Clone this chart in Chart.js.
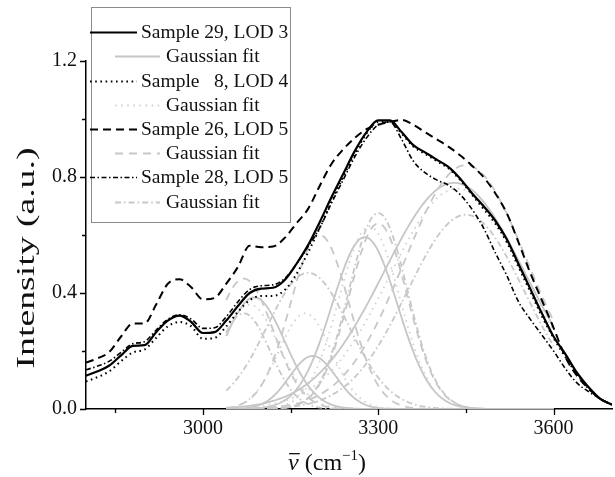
<!DOCTYPE html>
<html>
<head>
<meta charset="utf-8">
<script src="https://cdn.jsdelivr.net/npm/chart.js@4"></script>
<style>
  html, body { margin: 0; padding: 0; background: #fff; }
</style>
</head>
<body>
<canvas id="ftirChart" width="615" height="477"></canvas>
<script>
// =======================================
// DATA
// =======================================
// wavenumber grid of the measured spectra, cm-1
const wavenumbers = [
  2800, 2820, 2840, 2860, 2880, 2900, 2920, 2940, 2960, 2980,
  3000, 3020, 3040, 3060, 3080, 3100, 3120, 3140, 3160, 3180,
  3200, 3220, 3240, 3260, 3280, 3300, 3320, 3340, 3360, 3380,
  3400, 3420, 3440, 3460, 3480, 3500, 3520, 3540, 3560, 3580,
  3600, 3620, 3640, 3660, 3680, 3700
]

const sample29 = [
  0.115, 0.130, 0.150, 0.185, 0.218, 0.220, 0.265, 0.305, 0.322, 0.300,
  0.262, 0.265, 0.305, 0.355, 0.400, 0.415, 0.418, 0.445, 0.500, 0.565,
  0.645, 0.730, 0.810, 0.890, 0.955, 0.995, 0.995, 0.955, 0.910, 0.885,
  0.860, 0.835, 0.795, 0.745, 0.700, 0.650, 0.585, 0.500, 0.415, 0.330,
  0.250, 0.190, 0.125, 0.075, 0.035, 0.015
]

const sample8 = [
  0.095, 0.110, 0.130, 0.165, 0.195, 0.205, 0.245, 0.285, 0.300, 0.285,
  0.242, 0.245, 0.285, 0.335, 0.375, 0.390, 0.390, 0.410, 0.465, 0.540,
  0.625, 0.715, 0.800, 0.880, 0.950, 0.990, 0.990, 0.950, 0.905, 0.880,
  0.855, 0.830, 0.790, 0.740, 0.690, 0.640, 0.575, 0.490, 0.405, 0.320,
  0.245, 0.180, 0.120, 0.070, 0.035, 0.015
]

const sample26 = [
  0.160, 0.175, 0.197, 0.250, 0.295, 0.295, 0.360, 0.432, 0.447, 0.420,
  0.378, 0.383, 0.432, 0.490, 0.563, 0.558, 0.560, 0.590, 0.640, 0.690,
  0.770, 0.845, 0.895, 0.935, 0.965, 0.980, 0.990, 0.997, 0.980, 0.955,
  0.930, 0.905, 0.875, 0.840, 0.800, 0.745, 0.675, 0.575, 0.470, 0.375,
  0.280, 0.180, 0.115, 0.070, 0.035, 0.015
]

const sample28 = [
  0.135, 0.148, 0.165, 0.195, 0.225, 0.232, 0.272, 0.310, 0.325, 0.310,
  0.278, 0.280, 0.318, 0.370, 0.412, 0.425, 0.428, 0.450, 0.500, 0.560,
  0.625, 0.710, 0.790, 0.870, 0.935, 0.980, 0.990, 0.930, 0.855, 0.815,
  0.790, 0.772, 0.740, 0.690, 0.625, 0.540, 0.460, 0.370, 0.310, 0.255,
  0.200, 0.140, 0.090, 0.060, 0.035, 0.015
]

// Gaussian fit components: centre (cm-1), height, sigma (cm-1)
const fit29Centres = [3088, 3188, 3277, 3430]
const fit29Heights = [0.385, 0.183, 0.593, 0.780]
const fit29Sigmas = [52, 40, 56, 120]

const fit8Centres = [3080, 3175, 3285, 3435]
const fit8Heights = [0.360, 0.330, 0.630, 0.760]
const fit8Sigmas = [50, 45, 52, 115]

const fit26Centres = [3070, 3200, 3300, 3450]
const fit26Heights = [0.450, 0.600, 0.640, 0.841]
const fit26Sigmas = [50, 50, 50, 105]

const fit28Centres = [3070, 3180, 3300, 3450]
const fit28Heights = [0.330, 0.470, 0.676, 0.670]
const fit28Sigmas = [45, 70, 50, 100]

// fitted range, cm-1
const fitStart = 3040
const fitEnd = 3600

const sampleLabels = ['Sample 29, LOD 3', 'Sample   8, LOD 4', 'Sample 26, LOD 5', 'Sample 28, LOD 5']
const fitLabel = 'Gaussian fit'
const yTitle = 'Intensity (a.u.)'

const xMajorTicks = [3000, 3300, 3600]
const xMinorTicks = [2850, 3150, 3450]
const yMajorTicks = [0, 0.4, 0.8, 1.2]
const yMinorTicks = [0.2, 0.6, 1.0]

// =======================================
// STYLES
// =======================================
const FONT = "'Liberation Serif', 'Times New Roman', serif"
const TEXT = '#111'

const sampleStyles = [
  { color: '#000', width: 2.2, dash: [] },
  { color: '#000', width: 2, dash: [1.6, 3.6] },
  { color: '#000', width: 2, dash: [8, 5] },
  { color: '#000', width: 1.6, dash: [5, 2.5, 1.5, 2.5] }
]
const fitStyles = [
  { color: '#c6c6c6', width: 1.8, dash: [] },
  { color: '#d2d2d2', width: 1.8, dash: [1.6, 4.5] },
  { color: '#c8c8c8', width: 1.8, dash: [8, 6] },
  { color: '#c8c8c8', width: 1.8, dash: [6, 3, 1.6, 3] }
]

// =======================================
// BUILD DATASETS
// =======================================
function toPoints(ys) {
  return wavenumbers.map((x, i) => ({ x, y: ys[i] }))
}

function gaussianPoints(c, h, s) {
  const pts = []
  for (let x = fitStart; x <= fitEnd; x += 4) {
    pts.push({ x, y: h * Math.exp(-((x - c) ** 2) / (2 * s * s)) })
  }
  return pts
}

const samples = [sample29, sample8, sample26, sample28]
const fits = [
  [fit29Centres, fit29Heights, fit29Sigmas],
  [fit8Centres, fit8Heights, fit8Sigmas],
  [fit26Centres, fit26Heights, fit26Sigmas],
  [fit28Centres, fit28Heights, fit28Sigmas]
]

const datasets = []

// first dataset is drawn on top, so the black spectra go first
samples.forEach((ys, i) => {
  const st = sampleStyles[i]
  datasets.push({
    label: sampleLabels[i],
    data: toPoints(ys),
    borderColor: st.color,
    borderWidth: st.width,
    borderDash: st.dash,
    pointRadius: 0,
    cubicInterpolationMode: 'monotone',
    fill: false
  })
})

// fits in reverse so the solid ones sit above the rest
for (let i = fits.length - 1; i >= 0; i--) {
  const [cs, hs, ss] = fits[i]
  const st = fitStyles[i]
  cs.forEach((c, k) => {
    datasets.push({
      label: fitLabel,
      data: gaussianPoints(c, hs[k], ss[k]),
      borderColor: st.color,
      borderWidth: st.width,
      borderDash: st.dash,
      pointRadius: 0,
      tension: 0,
      fill: false
    })
  })
}

// =======================================
// PLUGINS
// =======================================
const whiteBg = {
  id: 'whiteBg',
  beforeDraw(chart) {
    const ctx = chart.ctx
    ctx.save()
    ctx.fillStyle = '#fff'
    ctx.fillRect(0, 0, chart.width, chart.height)
    ctx.restore()
  }
}

const tickMarks = {
  id: 'tickMarks',
  afterDraw(chart) {
    const { ctx, chartArea, scales: { x, y } } = chart
    ctx.save()
    ctx.strokeStyle = '#000'
    ctx.lineWidth = 1.3
    ctx.beginPath()
    xMajorTicks.forEach(v => {
      const px = Math.round(x.getPixelForValue(v)) + 0.5
      ctx.moveTo(px, chartArea.bottom); ctx.lineTo(px, chartArea.bottom + 6)
    })
    xMinorTicks.forEach(v => {
      const px = Math.round(x.getPixelForValue(v)) + 0.5
      ctx.moveTo(px, chartArea.bottom); ctx.lineTo(px, chartArea.bottom + 4)
    })
    yMajorTicks.forEach(v => {
      const py = Math.round(y.getPixelForValue(v)) + 0.5
      ctx.moveTo(chartArea.left, py); ctx.lineTo(chartArea.left - 6, py)
    })
    yMinorTicks.forEach(v => {
      const py = Math.round(y.getPixelForValue(v)) + 0.5
      ctx.moveTo(chartArea.left, py); ctx.lineTo(chartArea.left - 4, py)
    })
    ctx.stroke()
    ctx.restore()
  }
}

// y title, stretched along its length like in the figure
const yTitleDraw = {
  id: 'yTitleDraw',
  afterDraw(chart) {
    const ctx = chart.ctx
    ctx.save()
    ctx.fillStyle = TEXT
    ctx.font = `26px ${FONT}`
    ctx.textAlign = 'center'
    ctx.textBaseline = 'middle'
    ctx.translate(27, 258)
    ctx.rotate(-Math.PI / 2)
    ctx.scale(1.45, 1)
    ctx.fillText(yTitle, 0, 0)
    ctx.restore()
  }
}

// x title: italic nu with a bar, then (cm^-1)
const xTitle = {
  id: 'xTitle',
  afterDraw(chart) {
    const ctx = chart.ctx
    const size = 24
    const cx = 327
    const base = 470
    ctx.save()
    ctx.fillStyle = TEXT
    ctx.textBaseline = 'alphabetic'
    ctx.textAlign = 'left'
    ctx.font = `italic ${size}px ${FONT}`
    const nu = 'ν'
    const wNu = ctx.measureText(nu).width
    ctx.font = `${size}px ${FONT}`
    const part1 = ' (cm'
    const w1 = ctx.measureText(part1).width
    ctx.font = `${size * 0.62}px ${FONT}`
    const sup = '−1'
    const wSup = ctx.measureText(sup).width
    ctx.font = `${size}px ${FONT}`
    const w2 = ctx.measureText(')').width
    let x0 = cx - (wNu + w1 + wSup + w2) / 2

    ctx.font = `italic ${size}px ${FONT}`
    ctx.fillText(nu, x0, base)
    ctx.strokeStyle = TEXT
    ctx.lineWidth = 1.3
    ctx.beginPath()
    ctx.moveTo(x0 + 1, base - size * 0.68)
    ctx.lineTo(x0 + wNu + 1, base - size * 0.68)
    ctx.stroke()
    x0 += wNu
    ctx.font = `${size}px ${FONT}`
    ctx.fillText(part1, x0, base)
    x0 += w1
    ctx.font = `${size * 0.62}px ${FONT}`
    ctx.fillText(sup, x0, base - size * 0.42)
    x0 += wSup
    ctx.font = `${size}px ${FONT}`
    ctx.fillText(')', x0, base)
    ctx.restore()
  }
}

// legend box overlapping the top-left of the plot
const legendBox = {
  id: 'legendBox',
  afterDraw(chart) {
    const ctx = chart.ctx
    const box = { left: 91, top: 7, right: 291, bottom: 223 }
    ctx.save()
    ctx.fillStyle = '#fff'
    ctx.fillRect(box.left, box.top, box.right - box.left, box.bottom - box.top)
    ctx.strokeStyle = '#8a8a8a'
    ctx.lineWidth = 1
    ctx.strokeRect(box.left + 0.5, box.top + 0.5, box.right - box.left - 1, box.bottom - box.top - 1)

    ctx.font = `19.5px ${FONT}`
    ctx.textBaseline = 'middle'
    ctx.textAlign = 'left'
    const rowY = [32, 56, 81, 105, 129, 153, 177, 202]
    sampleLabels.forEach((label, i) => {
      const ys = rowY[i * 2]
      const yf = rowY[i * 2 + 1]
      const s = sampleStyles[i]
      const f = fitStyles[i]
      ctx.strokeStyle = s.color
      ctx.lineWidth = s.width
      ctx.setLineDash(s.dash)
      ctx.beginPath(); ctx.moveTo(90, ys + 0.5); ctx.lineTo(137, ys + 0.5); ctx.stroke()
      ctx.strokeStyle = f.color
      ctx.lineWidth = f.width
      ctx.setLineDash(f.dash)
      ctx.beginPath(); ctx.moveTo(115, yf + 0.5); ctx.lineTo(160, yf + 0.5); ctx.stroke()
      ctx.setLineDash([])
      ctx.fillStyle = TEXT
      ctx.fillText(label, 141, ys + 1)
      ctx.fillText(fitLabel, 166, yf + 1)
    })
    ctx.restore()
  }
}

// =======================================
// CHART
// =======================================
const ctx = document.getElementById('ftirChart').getContext('2d')

new Chart(ctx, {
  type: 'line',
  data: { datasets },
  options: {
    responsive: false,
    devicePixelRatio: 1,
    animation: false,
    events: [],
    layout: { padding: { top: 61, right: 3, left: 0, bottom: 0 } },
    plugins: {
      legend: { display: false },
      tooltip: { enabled: false }
    },
    scales: {
      x: {
        type: 'linear',
        min: 2800,
        max: 3700,
        afterBuildTicks: s => { s.ticks = xMajorTicks.map(v => ({ value: v })) },
        afterFit: s => { s.height = 68 },
        grid: { display: true, drawOnChartArea: false, drawTicks: false, color: 'rgba(0,0,0,0)' },
        border: { display: true, color: '#000', width: 1.5 },
        ticks: {
          font: { family: FONT, size: 20 },
          color: TEXT,
          padding: 8,
          maxRotation: 0,
          callback: v => String(v)
        }
      },
      y: {
        type: 'linear',
        min: 0,
        max: 1.2,
        afterBuildTicks: s => { s.ticks = yMajorTicks.map(v => ({ value: v })) },
        afterFit: s => { s.width = 86 },
        grid: { display: true, drawOnChartArea: false, drawTicks: false, color: 'rgba(0,0,0,0)' },
        border: { display: true, color: '#000', width: 1.5 },
        ticks: {
          font: { family: FONT, size: 20 },
          color: TEXT,
          padding: 9,
          callback: v => v.toFixed(1)
        }
      }
    }
  },
  plugins: [whiteBg, tickMarks, yTitleDraw, xTitle, legendBox]
})
</script>
</body>
</html>
